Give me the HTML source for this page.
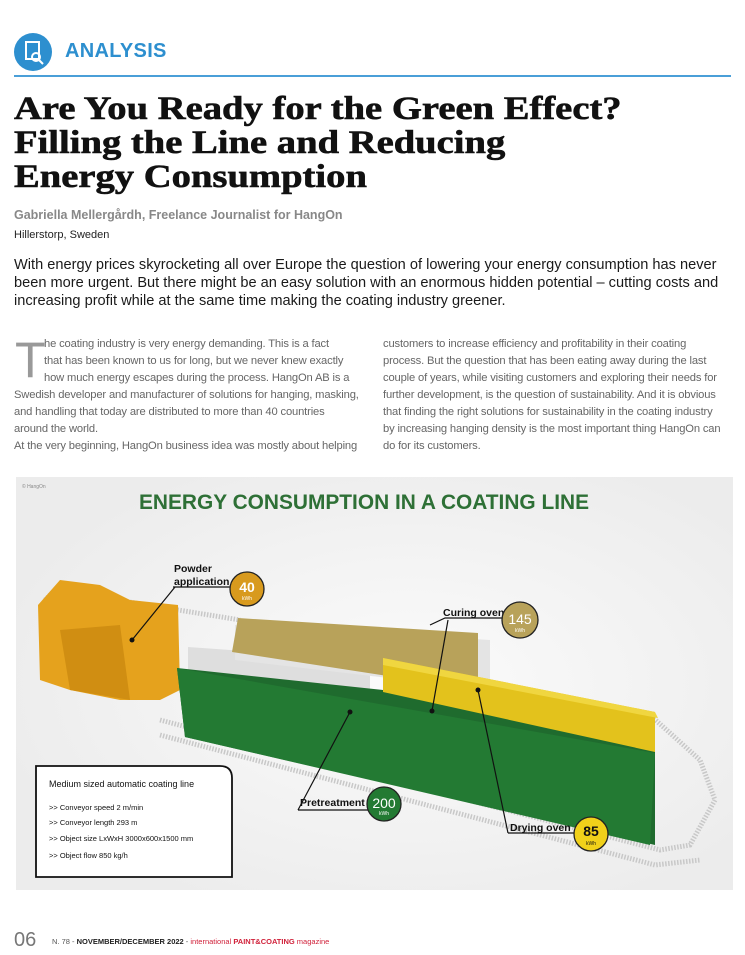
<!DOCTYPE html>
<html><head><meta charset="utf-8">
<style>
*{margin:0;padding:0;box-sizing:border-box}
body{width:745px;height:955px;background:#fff;position:relative;overflow:hidden;font-family:"Liberation Sans",sans-serif}
.a{position:absolute;white-space:nowrap}
.t{font-family:"Liberation Serif",serif;font-weight:bold;font-size:33px;color:#111;letter-spacing:0px;transform-origin:0 0;transform:scaleX(1.17);-webkit-text-stroke:0.6px #111}
.lead{font-size:14.6px;color:#1a1a1a;letter-spacing:0px}
.b{font-size:11.2px;color:#666;letter-spacing:-0.15px}
</style></head><body>
<div class="a" style="left:14px;top:33px;width:38px;height:38px;border-radius:50%;background:#2d8fcf"></div>
<svg class="a" style="left:14px;top:33px" width="38" height="38"><rect x="12" y="9" width="13" height="17" fill="none" stroke="#fff" stroke-width="2"/><circle cx="22" cy="24" r="4" fill="none" stroke="#fff" stroke-width="2"/><line x1="25" y1="27" x2="29" y2="31" stroke="#fff" stroke-width="2"/></svg>
<div class="a" style="left:65px;top:40px;font-size:20px;font-weight:bold;color:#2d8fcf;letter-spacing:0.3px">ANALYSIS</div>
<div class="a" style="left:14px;top:75px;width:717px;height:2px;background:#4a9fd8"></div>
<div class="a t" style="left:14px;top:91px">Are You Ready for the Green Effect?</div>
<div class="a t" style="left:14px;top:125px">Filling the Line and Reducing</div>
<div class="a t" style="left:14px;top:159px">Energy Consumption</div>
<div class="a" style="left:14px;top:208px;font-size:12.5px;font-weight:bold;color:#888">Gabriella Mellergårdh, Freelance Journalist for HangOn</div>
<div class="a" style="left:14px;top:229px;font-size:11px;color:#222">Hillerstorp, Sweden</div>
<div class="a lead" style="left:14px;top:257px">With energy prices skyrocketing all over Europe the question of lowering your energy consumption has never</div>
<div class="a lead" style="left:14px;top:275px">been more urgent. But there might be an easy solution with an enormous hidden potential – cutting costs and</div>
<div class="a lead" style="left:14px;top:293px">increasing profit while at the same time making the coating industry greener.</div>

<div class="a" style="left:15px;top:335px;font-size:50px;color:#999;line-height:50px">T</div>
<div class="a b" style="left:44px;top:338px">he coating industry is very energy demanding. This is a fact</div>
<div class="a b" style="left:44px;top:355px">that has been known to us for long, but we never knew exactly</div>
<div class="a b" style="left:44px;top:372px">how much energy escapes during the process. HangOn AB is a</div>
<div class="a b" style="left:14px;top:389px">Swedish developer and manufacturer of solutions for hanging, masking,</div>
<div class="a b" style="left:14px;top:406px">and handling that today are distributed to more than 40 countries</div>
<div class="a b" style="left:14px;top:423px">around the world.</div>
<div class="a b" style="left:14px;top:440px">At the very beginning, HangOn business idea was mostly about helping</div>
<div class="a b" style="left:383px;top:338px">customers to increase efficiency and profitability in their coating</div>
<div class="a b" style="left:383px;top:355px">process. But the question that has been eating away during the last</div>
<div class="a b" style="left:383px;top:372px">couple of years, while visiting customers and exploring their needs for</div>
<div class="a b" style="left:383px;top:389px">further development, is the question of sustainability. And it is obvious</div>
<div class="a b" style="left:383px;top:406px">that finding the right solutions for sustainability in the coating industry</div>
<div class="a b" style="left:383px;top:423px">by increasing hanging density is the most important thing HangOn can</div>
<div class="a b" style="left:383px;top:440px">do for its customers.</div>

<svg class="a" style="left:0;top:0" width="745" height="955">
<defs><radialGradient id="g" cx="0.55" cy="0.5" r="0.6"><stop offset="0" stop-color="#fbfbfb"/><stop offset="1" stop-color="#ececec"/></radialGradient></defs>
<rect x="16" y="477" width="717" height="413" fill="url(#g)"/>
<text x="22" y="488" font-size="5" fill="#888">© HangOn</text>
<text x="364" y="509" text-anchor="middle" font-size="21" font-weight="bold" fill="#2e7036" textLength="450" lengthAdjust="spacingAndGlyphs">ENERGY CONSUMPTION IN A COATING LINE</text>
<g fill="none" stroke="#c8c8c8" stroke-width="5" stroke-dasharray="1.5 1.5">
<path d="M45,600 L55,590 L240,620"/>
<path d="M160,720 L660,850 L690,845 L715,800 L700,760 L650,715"/>
<path d="M160,735 L655,865 L700,860"/>
</g>
<polygon points="38,605 60,580 100,585 130,600 178,605 180,690 160,700 120,700 70,690 40,680" fill="#e5a21d"/>
<polygon points="60,630 120,625 130,700 70,690" fill="#d08e12"/>
<polygon points="188,647 370,660 370,690 188,672" fill="#dedede"/>
<polygon points="235,625 490,640 490,690 235,660" fill="#e4e4e4"/>
<polygon points="238,618 478,633 478,690 232,652" fill="#b8a25a"/>
<polygon points="177,668 383,690 655,730 655,845 185,737" fill="#1f6b2e"/>
<polygon points="177,668 655,753 650,845 185,737" fill="#237a33"/>
<polygon points="383,658 655,712 655,752 383,692" fill="#e3c21c"/>
<polygon points="383,658 655,712 658,718 383,665" fill="#f0d640"/>
<g stroke="#111" stroke-width="1.2" fill="none">
<polyline points="173,587 230,587"/><line x1="175" y1="587" x2="132" y2="640"/>
<polyline points="505,618 445,618 430,625"/><line x1="448" y1="620" x2="432" y2="711"/>
<polyline points="298,810 370,810"/><line x1="298" y1="810" x2="350" y2="712"/>
<polyline points="508,833 575,833"/><line x1="508" y1="833" x2="478" y2="690"/>
</g>
<g fill="#111"><circle cx="132" cy="640" r="2.5"/><circle cx="432" cy="711" r="2.5"/><circle cx="350" cy="712" r="2.5"/><circle cx="478" cy="690" r="2.5"/></g>
<g font-weight="bold" fill="#111" font-size="10.5">
<text x="174" y="572">Powder</text><text x="174" y="585">application</text>
<text x="443" y="616">Curing oven</text>
<text x="300" y="806">Pretreatment</text>
<text x="510" y="831">Drying oven</text>
</g>
<circle cx="247" cy="589" r="17" fill="#d89a1e" stroke="#222" stroke-width="1.3"/>
<text x="247" y="592" text-anchor="middle" font-size="14" font-weight="bold" fill="#fff">40</text><text x="247" y="600" text-anchor="middle" font-size="5" fill="#fff">kWh</text>
<circle cx="520" cy="620" r="18" fill="#b8a25a" stroke="#222" stroke-width="1.3"/>
<text x="520" y="624" text-anchor="middle" font-size="14" fill="#fff">145</text><text x="520" y="632" text-anchor="middle" font-size="5" fill="#fff">kWh</text>
<circle cx="384" cy="804" r="17" fill="#237a33" stroke="#222" stroke-width="1.3"/>
<text x="384" y="808" text-anchor="middle" font-size="14" fill="#fff">200</text><text x="384" y="815" text-anchor="middle" font-size="5" fill="#fff">kWh</text>
<circle cx="591" cy="834" r="17" fill="#f1d11a" stroke="#222" stroke-width="1.3"/>
<text x="591" y="836" text-anchor="middle" font-size="14" font-weight="bold" fill="#111">85</text><text x="591" y="845" text-anchor="middle" font-size="5" fill="#111">kWh</text>
<path d="M36,766 L220,766 Q232,766 232,778 L232,877 L36,877 Z" fill="#fff" stroke="#111" stroke-width="1.8"/>
<g font-size="9" fill="#111">
<text x="49" y="787">Medium sized automatic coating line</text>
<g font-size="7.5"><text x="49" y="810">&gt;&gt; Conveyor speed 2 m/min</text>
<text x="49" y="825">&gt;&gt; Conveyor length 293 m</text>
<text x="49" y="841">&gt;&gt; Object size LxWxH 3000x600x1500 mm</text>
<text x="49" y="858">&gt;&gt; Object flow 850 kg/h</text></g>
</g>
</svg>
<div class="a" style="left:14px;top:929px;font-size:20px;color:#777">06</div>
<div class="a" style="left:52px;top:937px;font-size:7.5px;color:#555">N. 78 - <b style="color:#222">NOVEMBER/DECEMBER 2022</b> - <span style="color:#d0213a">international <b>PAINT&amp;COATING</b> magazine</span></div>
</body></html>
